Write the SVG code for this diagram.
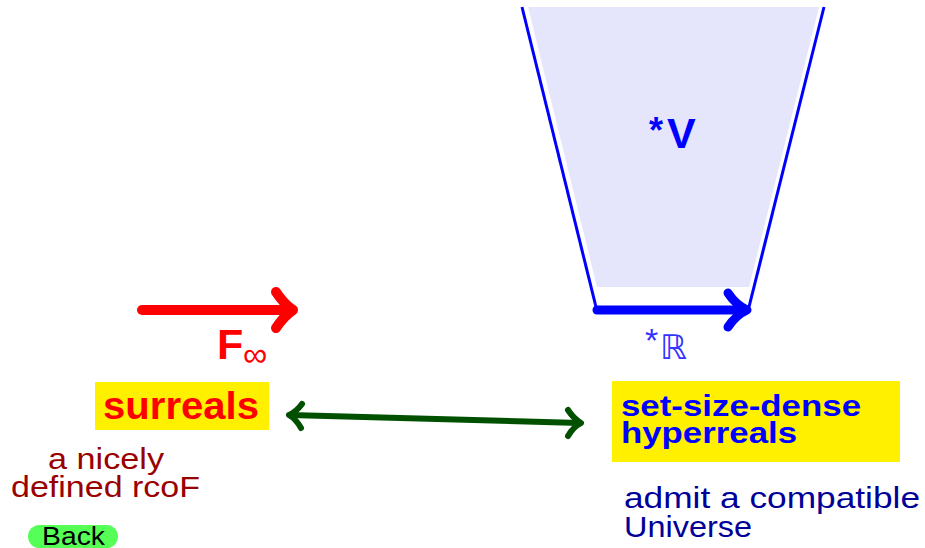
<svg xmlns="http://www.w3.org/2000/svg" width="925" height="548" viewBox="0 0 925 548">
<style>
text{font-family:"Liberation Sans","DejaVu Sans",sans-serif}
.b{font-weight:bold}
.box{fill:#fff000}
.arr{fill:none;stroke-linecap:round;stroke-linejoin:round}
</style>
<rect width="925" height="548" fill="#fff"/>
<g id="universe">
<polygon points="528,7 819,7 749,287 597,287" fill="#e5e5fb"/>
<line x1="522" y1="7" x2="596" y2="307" stroke="#0000ff" stroke-width="3"/>
<line x1="824" y1="7" x2="749" y2="307" stroke="#0000ff" stroke-width="3"/>
<text x="649" y="143" font-size="36" class="b" fill="#0000ff">*</text>
<text x="667" y="148" font-size="43" class="b" fill="#0000ff">V</text>
</g>
<g id="hyperreal-line">
<text x="645" y="352" font-size="34" fill="#3333ff">*</text>
<text x="660" y="359" font-size="34" fill="#3333ff" font-family="DejaVu Sans, sans-serif">ℝ</text>
</g>
<g id="fline">
<text x="217" y="359" font-size="43" class="b" fill="#ff0000">F</text>
<text x="243" y="366" font-size="34" fill="#ff0000" font-family="DejaVu Sans, sans-serif">∞</text>
</g>
<g id="surreals">
<rect class="box" x="95" y="382" width="174" height="48"/>
<text x="103" y="419" font-size="38" class="b" fill="#ff0000" textLength="156" lengthAdjust="spacingAndGlyphs">surreals</text>
<text x="106" y="469" font-size="30" fill="#990000" text-anchor="middle" textLength="116" lengthAdjust="spacingAndGlyphs">a nicely</text>
<text x="11" y="497" font-size="30" fill="#990000" textLength="189" lengthAdjust="spacingAndGlyphs">defined rcoF</text>
</g>
<g id="hyperreals">
<rect class="box" x="612" y="381" width="288" height="81"/>
<text x="621" y="416" font-size="29" class="b" fill="#0000ff" textLength="240" lengthAdjust="spacingAndGlyphs">set-size-dense</text>
<text x="621" y="443" font-size="29" class="b" fill="#0000ff" textLength="176" lengthAdjust="spacingAndGlyphs">hyperreals</text>
<text x="624" y="508" font-size="30" fill="#000099" textLength="296" lengthAdjust="spacingAndGlyphs">admit a compatible</text>
<text x="624" y="537" font-size="30" fill="#000099" textLength="128" lengthAdjust="spacingAndGlyphs">Universe</text>
</g>
<g id="back">
<rect x="28" y="525" width="90" height="23" rx="11.5" fill="#55ff55"/>
<text x="42" y="545" font-size="25" fill="#000" textLength="63" lengthAdjust="spacingAndGlyphs">Back</text>
</g>
<g id="connectors">
<g class="arr" stroke="#ff0000" stroke-width="10">
<line x1="142" y1="310" x2="292" y2="310"/>
<path d="M276,292 Q284,304 293,310 Q284,316 276,328"/>
</g>
<g class="arr" stroke="#0000ff" stroke-width="9">
<line x1="597" y1="310" x2="746" y2="310"/>
<path d="M728,293 Q736,305 747,310 Q736,315 728,327"/>
</g>
<g class="arr" stroke="#005000" stroke-width="6">
<line x1="290" y1="415" x2="580" y2="423"/>
<path d="M302,404 Q296,412 289,415 Q296,419 301,428"/>
<path d="M568,410 Q574,419 581,423 Q574,426 568,436"/>
</g>
</g>
</svg>
